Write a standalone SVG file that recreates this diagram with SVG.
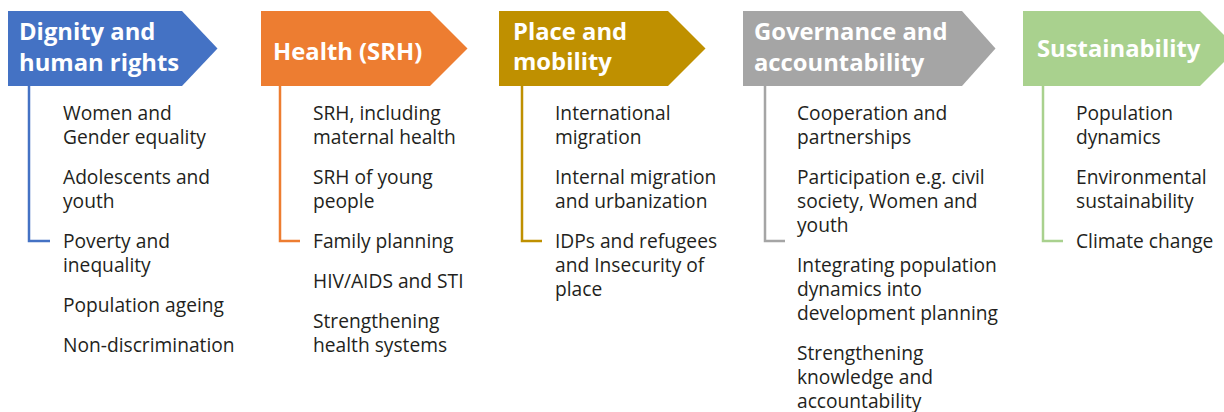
<svg xmlns="http://www.w3.org/2000/svg" width="1224" height="412" viewBox="0 0 1224 412">
<style>
.hd{font-family:"Open Sans","Noto Sans",sans-serif;font-weight:700;font-size:23.8px;fill:#ffffff}
.it{font-family:"Open Sans","Noto Sans",sans-serif;font-size:19.2px;fill:#231f20}
.br{fill:none;stroke-width:2.5}
</style>
<rect width="1224" height="412" fill="#ffffff"/>
<g id="connectors">
<polyline class="br" stroke="#4472c4" points="29,86 29,241 50,241"/>
<polyline class="br" stroke="#ed7d31" points="280,86 280,241 300,241"/>
<polyline class="br" stroke="#bf9000" points="522,86 522,241 542,241"/>
<polyline class="br" stroke="#a5a5a5" points="765,86 765,241 785,241"/>
<polyline class="br" stroke="#a9d18e" points="1043,86 1043,241 1063,241"/>
</g>
<g id="dignity">
<polygon fill="#4472c4" points="8,11 182,11 217.5,48.5 182,86 8,86"/>
<text class="hd"><tspan x="19" y="40">Dignity and</tspan><tspan x="19" y="71">human rights</tspan></text>
<text class="it"><tspan x="63" y="120">Women and</tspan><tspan x="63" y="144">Gender equality</tspan><tspan x="63" y="184">Adolescents and</tspan><tspan x="63" y="208">youth</tspan><tspan x="63" y="248">Poverty and</tspan><tspan x="63" y="272">inequality</tspan><tspan x="63" y="312">Population ageing</tspan><tspan x="63" y="352">Non-discrimination</tspan></text>
</g>
<g id="health">
<polygon fill="#ed7d31" points="261,11 430,11 467.5,48.5 430,86 261,86"/>
<text class="hd" x="273" y="60">Health (SRH)</text>
<text class="it"><tspan x="313" y="120">SRH, including</tspan><tspan x="313" y="144">maternal health</tspan><tspan x="313" y="184">SRH of young</tspan><tspan x="313" y="208">people</tspan><tspan x="313" y="248">Family planning</tspan><tspan x="313" y="288">HIV/AIDS and STI</tspan><tspan x="313" y="328">Strengthening</tspan><tspan x="313" y="352">health systems</tspan></text>
</g>
<g id="place">
<polygon fill="#bf9000" points="499,11 668,11 705.5,48.5 668,86 499,86"/>
<text class="hd"><tspan x="513" y="40">Place and</tspan><tspan x="513" y="70">mobility</tspan></text>
<text class="it"><tspan x="555" y="120">International</tspan><tspan x="555" y="144">migration</tspan><tspan x="555" y="184">Internal migration</tspan><tspan x="555" y="208">and urbanization</tspan><tspan x="555" y="248">IDPs and refugees</tspan><tspan x="555" y="272">and Insecurity of</tspan><tspan x="555" y="296">place</tspan></text>
</g>
<g id="governance">
<polygon fill="#a5a5a5" points="743,11 962,11 995.5,48.5 962,86 743,86"/>
<text class="hd"><tspan x="754" y="40">Governance and</tspan><tspan x="754" y="71">accountability</tspan></text>
<text class="it"><tspan x="797" y="120">Cooperation and</tspan><tspan x="797" y="144">partnerships</tspan><tspan x="797" y="184">Participation e.g. civil</tspan><tspan x="797" y="208">society, Women and</tspan><tspan x="797" y="232">youth</tspan><tspan x="797" y="272">Integrating population</tspan><tspan x="797" y="296">dynamics into</tspan><tspan x="797" y="320">development planning</tspan><tspan x="797" y="360">Strengthening</tspan><tspan x="797" y="384">knowledge and</tspan><tspan x="797" y="408">accountability</tspan></text>
</g>
<g id="sustainability">
<polygon fill="#a9d18e" points="1023,11 1200,11 1237.5,48.5 1200,86 1023,86"/>
<text class="hd" x="1037" y="57">Sustainability</text>
<text class="it"><tspan x="1076" y="120">Population</tspan><tspan x="1076" y="144">dynamics</tspan><tspan x="1076" y="184">Environmental</tspan><tspan x="1076" y="208">sustainability</tspan><tspan x="1076" y="248">Climate change</tspan></text>
</g>
</svg>
